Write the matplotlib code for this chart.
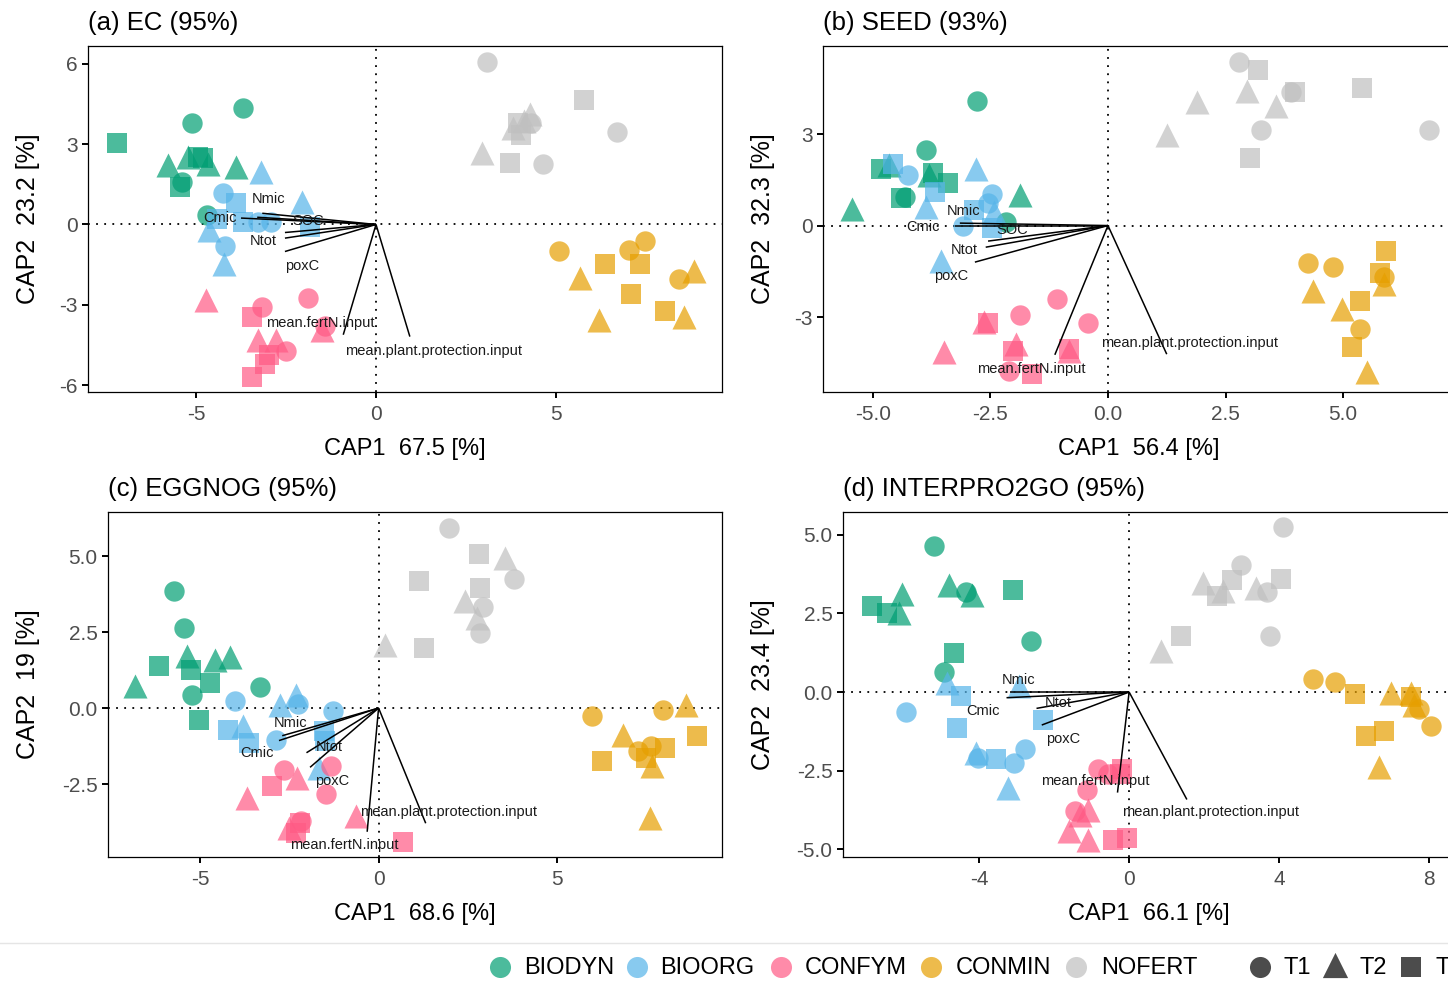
import matplotlib
matplotlib.use("Agg")
import matplotlib.pyplot as plt

plt.rcParams["font.family"] = ["Liberation Sans", "DejaVu Sans"]

# ---------------------------------------------------------------------------
# Groups and sampling times (each treatment block: 4 x T1, 4 x T2, 4 x T3)
# ---------------------------------------------------------------------------
treatments = ["BIODYN", "BIOORG", "CONFYM", "CONMIN", "NOFERT"]
times = ["T1", "T2", "T3"]
n_rep = 4

# ---------------------------------------------------------------------------
# (a) EC
# ---------------------------------------------------------------------------
ec_cap1 = [
    -3.70, -5.10, -5.39, -4.69,   -5.77, -5.21, -4.68, -3.88,   -7.19, -4.95, -4.80, -5.45,   # BIODYN
    -4.25, -3.27, -2.93, -4.19,   -3.19, -2.06, -4.63, -4.22,   -3.88, -3.70, -4.42, -1.83,   # BIOORG
    -3.16, -1.89, -1.43, -2.50,   -4.71, -1.49, -3.27, -2.78,   -3.44, -2.98, -3.07, -3.44,   # CONFYM
     5.08,  7.04,  7.47,  8.42,    5.66,  8.82,  6.18,  8.56,    6.35,  7.33,  7.07,  8.04,   # CONMIN
     3.09,  4.31,  6.69,  4.65,    4.27,  3.81,  4.10,  2.93,    5.79,  4.04,  3.95,  3.72,   # NOFERT
]
ec_cap2 = [
     4.36,  3.78,  1.60,  0.35,    2.22,  2.53,  2.26,  2.16,    3.03,  2.53,  2.50,  1.41,
     1.19,  0.10,  0.10, -0.80,    1.97,  0.85, -0.21, -1.49,    0.79,  0.10,  0.22, -0.09,
    -3.08, -2.75, -3.80, -4.71,   -2.83, -3.96, -4.33, -4.33,   -3.46, -4.89, -5.21, -5.71,
    -0.99, -0.94, -0.61, -2.05,   -1.99, -1.74, -3.56, -3.46,   -1.46, -1.49, -2.61, -3.23,
     6.09,  3.78,  3.47,  2.26,    4.13,  3.60,  3.85,  2.66,    4.66,  3.35,  3.80,  2.28,
]
ec_vec_names = ["Cmic", "SOC", "Nmic", "Ntot", "", "poxC",
                "mean.fertN.input", "mean.plant.protection.input"]
ec_vec_cap1 = [-3.75, -3.30, -3.16, -2.53, -2.53, -2.53, -0.91, 0.94]
ec_vec_cap2 = [0.24, 0.27, 0.42, -0.30, -0.51, -1.01, -4.12, -4.19]
ec_lab_cap1 = [-4.33, -1.88, -2.99, -3.13, 0.0, -2.04, -1.56, 1.61]
ec_lab_cap2 = [0.24, 0.12, 0.96, -0.60, 0.0, -1.54, -3.70, -4.72]

# ---------------------------------------------------------------------------
# (b) SEED
# ---------------------------------------------------------------------------
seed_cap1 = [
    -2.78, -3.88, -4.31, -2.16,   -4.66, -3.81, -5.45, -1.88,   -4.83, -3.73, -3.41, -4.40,
    -4.25, -2.47, -2.55, -3.08,   -2.81, -3.88, -2.42, -3.54,   -4.57, -3.67, -2.85, -2.47,
    -1.09, -1.88, -0.43, -2.10,   -2.64, -1.95, -3.48, -0.82,   -2.55, -2.02, -0.83, -1.61,
     4.26,  4.78,  5.88,  5.37,    5.87,  4.36,  4.97,  5.50,    5.91,  5.78,  5.35,  5.20,
     2.79,  3.89,  3.25,  6.83,    2.96,  1.90,  3.57,  1.25,    3.20,  3.98,  5.41,  3.03,
]
seed_cap2 = [
     4.07,  2.47,  0.95,  0.13,    1.98,  1.65,  0.53,  1.00,    1.87,  1.71,  1.38,  0.89,
     1.67,  1.03,  0.73, -0.03,    1.87,  0.62,  0.46, -1.17,    2.03,  1.11,  0.51, -0.09,
    -2.40, -2.95, -3.21, -4.76,   -3.18, -3.89, -4.16, -4.11,   -3.21, -4.11, -4.05, -4.87,
    -1.23, -1.36, -1.68, -3.40,   -1.93, -2.15, -2.75, -4.82,   -0.85, -1.55, -2.48, -4.00,
     5.37,  4.37,  3.12,  3.15,    4.42,  4.04,  3.91,  2.96,    5.11,  4.37,  4.51,  2.20,
]
seed_vec_names = ["Nmic", "Cmic", "SOC", "Ntot", "poxC",
                  "mean.fertN.input", "mean.plant.protection.input"]
seed_vec_cap1 = [-3.15, -3.26, -2.55, -2.60, -2.83, -1.13, 1.25]
seed_vec_cap2 = [0.08, 0.00, -0.51, -0.71, -1.20, -4.24, -4.22]
seed_lab_cap1 = [-3.08, -3.94, -2.03, -3.06, -3.33, -1.62, 1.74]
seed_lab_cap2 = [0.49, -0.05, -0.16, -0.80, -1.65, -4.70, -3.84]

# ---------------------------------------------------------------------------
# (c) EGGNOG
# ---------------------------------------------------------------------------
egg_cap1 = [
    -5.74, -5.45, -5.23, -3.33,   -5.36, -4.58, -4.15, -6.81,   -6.15, -5.25, -4.72, -5.02,
    -4.02, -2.26, -1.27, -2.87,   -2.76, -2.32, -3.81, -1.66,   -4.21, -3.62, -1.52, -1.50,
    -2.65, -1.32, -1.47, -2.17,   -2.29, -3.70, -0.62, -2.51,   -2.99, -2.21, -2.31,  0.68,
     5.97,  7.98,  7.27,  7.64,    8.60,  6.86,  7.65,  7.61,    8.91,  8.01,  7.50,  6.26,
     1.96,  3.80,  2.92,  2.84,    3.54,  2.41,  2.77,  0.17,    2.81,  1.14,  2.84,  1.28,
]
egg_cap2 = [
     3.86,  2.63,  0.44,  0.68,    1.70,  1.59,  1.67,  0.71,    1.37,  1.26,  0.82, -0.38,
     0.24,  0.13, -0.11, -1.04,    0.11,  0.42, -0.60, -1.97,   -0.71, -1.15, -0.77, -1.10,
    -2.05, -1.92, -2.83, -3.73,   -2.30, -2.96, -3.56, -3.95,   -2.58, -3.78, -4.11, -4.41,
    -0.27, -0.05, -1.40, -1.26,    0.11, -0.88, -1.92, -3.62,   -0.93, -1.32, -1.64, -1.73,
     5.94,  4.25,  3.34,  2.47,    4.93,  3.51,  2.96,  2.08,    5.07,  4.17,  3.95,  1.97,
]
egg_vec_names = ["Nmic", "Cmic", "Ntot", "poxC",
                 "mean.fertN.input", "mean.plant.protection.input"]
egg_vec_cap1 = [-2.70, -2.79, -2.02, -1.92, -0.32, 1.32]
egg_vec_cap2 = [-0.91, -1.07, -1.47, -1.95, -4.07, -3.79]
egg_lab_cap1 = [-2.46, -3.42, -1.39, -1.30, -0.95, 1.95]
egg_lab_cap2 = [-0.50, -1.49, -1.29, -2.39, -4.51, -3.41]

# ---------------------------------------------------------------------------
# (d) INTERPRO2GO
# ---------------------------------------------------------------------------
ipr_cap1 = [
    -5.20, -4.35, -2.62, -4.94,   -4.80, -4.20, -6.06, -6.13,   -3.11, -6.87, -6.46, -4.68,
    -5.96, -4.02, -2.77, -3.06,   -4.87, -2.95, -4.09, -3.24,   -4.48, -2.30, -4.58, -3.55,
    -0.83, -0.57, -1.12, -1.45,   -1.09, -1.30, -1.61, -1.09,   -0.18, -0.25, -0.44, -0.05,
     4.90,  5.49,  7.74,  8.05,    6.97,  7.51,  7.60,  6.66,    6.01,  7.51,  6.32,  6.79,
     4.09,  2.97,  3.68,  3.75,    1.97,  3.37,  2.49,  0.86,    4.06,  2.75,  2.35,  1.37,
]
ipr_cap2 = [
     4.66,  3.17,  1.61,  0.63,    3.42,  3.10,  3.12,  2.52,    3.26,  2.73,  2.52,  1.24,
    -0.64, -2.10, -1.82, -2.26,    0.29,  0.18, -1.94, -3.04,   -0.14, -0.88, -1.13, -2.12,
    -2.45, -2.61, -3.13, -3.78,   -3.75, -3.90, -4.42, -4.70,   -2.45, -2.60, -4.70, -4.65,
     0.42,  0.32, -0.53, -1.07,   -0.03, -0.03, -0.40, -2.40,   -0.06, -0.17, -1.41, -1.23,
     5.24,  4.03,  3.18,  1.77,    3.47,  3.31,  3.23,  1.30,    3.61,  3.55,  3.05,  1.77,
]
ipr_vec_names = ["Nmic", "Cmic", "Ntot", "poxC",
                 "mean.fertN.input", "mean.plant.protection.input"]
ipr_vec_cap1 = [-3.18, -3.27, -2.47, -2.33, -0.31, 1.54]
ipr_vec_cap2 = [0.00, -0.18, -0.52, -1.05, -3.20, -3.42]
ipr_lab_cap1 = [-2.96, -3.90, -1.89, -1.77, -0.91, 2.17]
ipr_lab_cap2 = [0.38, -0.59, -0.34, -1.51, -2.82, -3.82]

# ---------------------------------------------------------------------------
# Styling
# ---------------------------------------------------------------------------
treat_colors = ["#009E73", "#56B4E9", "#FF5A85", "#E69F00", "#C0C0C0"]
time_markers = {"T1": "o", "T2": "^", "T3": "s"}
time_sizes = {"T1": 215, "T2": 300, "T3": 200}
point_alpha = 0.7
tick_color = "#4D4D4D"

W, H = 1448, 983
fig = plt.figure(figsize=(W / 100, H / 100), dpi=100)


def axes_px(left, top, right, bottom):
    return fig.add_axes([left / W, 1 - bottom / H, (right - left) / W, (bottom - top) / H])


panels = [
    dict(box=(88, 46, 722, 392), xlim=(-8.0, 9.61), ylim=(-6.26, 6.67),
         xticks=[-5, 0, 5], yticks=[-6, -3, 0, 3, 6], xfmt="{:.0f}", yfmt="{:.0f}",
         cap1=ec_cap1, cap2=ec_cap2, vnames=ec_vec_names, vx=ec_vec_cap1, vy=ec_vec_cap2,
         lx=ec_lab_cap1, ly=ec_lab_cap2, title="(a) EC (95%)",
         xlabel="CAP1  67.5 [%]", ylabel="CAP2  23.2 [%]", ylab_x=28),
    dict(box=(823, 46, 1455, 392), xlim=(-6.06, 7.38), ylim=(-5.46, 5.89),
         xticks=[-5, -2.5, 0, 2.5, 5], yticks=[-3, 0, 3], xfmt="{:.1f}", yfmt="{:.0f}",
         cap1=seed_cap1, cap2=seed_cap2, vnames=seed_vec_names, vx=seed_vec_cap1,
         vy=seed_vec_cap2, lx=seed_lab_cap1, ly=seed_lab_cap2, title="(b) SEED (93%)",
         xlabel="CAP1  56.4 [%]", ylabel="CAP2  32.3 [%]", ylab_x=763),
    dict(box=(108, 512, 722, 857), xlim=(-7.58, 9.62), ylim=(-4.90, 6.45),
         xticks=[-5, 0, 5], yticks=[-2.5, 0, 2.5, 5], xfmt="{:.0f}", yfmt="{:.1f}",
         cap1=egg_cap1, cap2=egg_cap2, vnames=egg_vec_names, vx=egg_vec_cap1, vy=egg_vec_cap2,
         lx=egg_lab_cap1, ly=egg_lab_cap2, title="(c) EGGNOG (95%)",
         xlabel="CAP1  68.6 [%]", ylabel="CAP2  19 [%]", ylab_x=28),
    dict(box=(843, 512, 1455, 857), xlim=(-7.63, 8.69), ylim=(-5.25, 5.73),
         xticks=[-4, 0, 4, 8], yticks=[-5, -2.5, 0, 2.5, 5], xfmt="{:.0f}", yfmt="{:.1f}",
         cap1=ipr_cap1, cap2=ipr_cap2, vnames=ipr_vec_names, vx=ipr_vec_cap1, vy=ipr_vec_cap2,
         lx=ipr_lab_cap1, ly=ipr_lab_cap2, title="(d) INTERPRO2GO (95%)",
         xlabel="CAP1  66.1 [%]", ylabel="CAP2  23.4 [%]", ylab_x=763),
]

for p in panels:
    left, top, right, bottom = p["box"]
    ax = axes_px(left, top, right, bottom)
    ax.set_xlim(*p["xlim"])
    ax.set_ylim(*p["ylim"])

    # reference lines through the origin
    dot = (0, (1, 3.5))
    ax.axhline(0, color="black", lw=1.3, linestyle=dot, zorder=1)
    ax.axvline(0, color="black", lw=1.3, linestyle=dot, zorder=1)

    # samples
    for ti, treat in enumerate(treatments):
        for k, t in enumerate(times):
            start = ti * len(times) * n_rep + k * n_rep
            xs = p["cap1"][start:start + n_rep]
            ys = p["cap2"][start:start + n_rep]
            ax.scatter(xs, ys, marker=time_markers[t], s=time_sizes[t],
                       color=treat_colors[ti], alpha=point_alpha, linewidths=0, zorder=3)

    # environmental fit vectors
    for name, vx, vy, lx, ly in zip(p["vnames"], p["vx"], p["vy"], p["lx"], p["ly"]):
        ax.plot([0, vx], [0, vy], color="black", lw=1.1, zorder=4, solid_capstyle="butt")
        if name:
            ax.text(lx, ly, name, fontsize=10.5, ha="center", va="center",
                    color="#1A1A1A", zorder=5)

    ax.set_xticks(p["xticks"])
    ax.set_xticklabels([p["xfmt"].format(v) for v in p["xticks"]])
    ax.set_yticks(p["yticks"])
    ax.set_yticklabels([p["yfmt"].format(v) for v in p["yticks"]])
    ax.tick_params(axis="both", direction="out", length=4.5, width=1.4, color="black",
                   labelsize=15, labelcolor=tick_color)
    ax.tick_params(axis="x", pad=5)
    ax.tick_params(axis="y", pad=3)
    for sp in ax.spines.values():
        sp.set_linewidth(0.9)
        sp.set_color("black")

    # titles and axis titles
    fig.text(left / W, 1 - (top - 23) / H, p["title"], fontsize=18.5, ha="left",
             va="center", color="black")
    fig.text(((left + right) / 2) / W, 1 - (bottom + 57) / H, p["xlabel"], fontsize=17,
             ha="center", va="center", color="black")
    fig.text(p["ylab_x"] / W, 1 - ((top + bottom) / 2) / H, p["ylabel"], fontsize=18,
             rotation=90, ha="center", va="center", color="black")

# ---------------------------------------------------------------------------
# Legend strip along the bottom
# ---------------------------------------------------------------------------
leg = fig.add_axes([0, 0, 1, 1], zorder=9)
leg.set_xlim(0, W)
leg.set_ylim(H, 0)
leg.axis("off")
leg.plot([0, W], [943, 943], color="#E5E5E5", lw=1.0)

leg_y = 967
color_marker_x = [500, 637, 781, 931, 1076]
color_text_x = [524, 660, 805, 956, 1101]
for ti, treat in enumerate(treatments):
    leg.scatter([color_marker_x[ti]], [leg_y], marker="o", s=230, color=treat_colors[ti],
                alpha=point_alpha, linewidths=0)
    leg.text(color_text_x[ti], leg_y + 1, treat, fontsize=17, ha="left", va="center",
             color="black")

shape_marker_x = [1260, 1335, 1411]
shape_text_x = [1284, 1360, 1436]
shape_sizes = {"T1": 230, "T2": 330, "T3": 210}
for k, t in enumerate(times):
    leg.scatter([shape_marker_x[k]], [leg_y - (2 if t == "T2" else 0)], marker=time_markers[t],
                s=shape_sizes[t], color="black", alpha=point_alpha, linewidths=0)
    leg.text(shape_text_x[k], leg_y + 1, t, fontsize=17, ha="left", va="center",
             color="black")

fig.savefig("out.png", dpi=100)
